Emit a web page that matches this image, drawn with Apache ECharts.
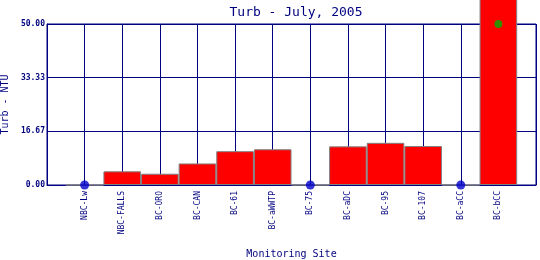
<!DOCTYPE html>
<html><head><meta charset="utf-8">
<script src="https://cdn.jsdelivr.net/npm/echarts@6/dist/echarts.min.js"></script>
<style>html,body{margin:0;padding:0;background:#fff}#c{width:540px;height:260px}</style>
</head><body><div id="c"></div>
<script>
const sites = ['NBC-Lw','NBC-FALLS','BC-ORO','BC-CAN','BC-61','BC-aWWTP','BC-75','BC-aDC','BC-95','BC-107','BC-aCC','BC-bCC'];
const turbidity = [0, 4.25, 3.5, 6.7, 10.5, 11.1, 0, 12.0, 13.1, 12.1, 0, 60];
const zeroMarks = [0, null, null, null, null, null, 0, null, null, null, 0, null];
const offScaleMarks = [null, null, null, null, null, null, null, null, null, null, null, 50];
const yTicks = [0, 16.67, 33.33, 50];

const NAVY = '#000080';
const FONT = 'DejaVu Sans Mono';
const cats = [''].concat(sites, ['']);
const pad = a => [null].concat(a, [null]);

const chart = echarts.init(document.getElementById('c'), null, {renderer: 'canvas'});
chart.setOption({
  animation: false,
  title: {text: 'Turb - July, 2005', left: 291, top: 1, textAlign: 'center',
    textStyle: {fontFamily: FONT, fontSize: 13, fontWeight: 'normal', color: NAVY}},
  grid: {left: 47, right: 4, top: 24, bottom: 75, show: true, borderColor: NAVY, borderWidth: 1,
    containLabel: false, outerBoundsMode: 'none'},
  xAxis: {
    type: 'category', data: cats, boundaryGap: false,
    name: 'Monitoring Site', nameLocation: 'middle', nameGap: 64,
    nameTextStyle: {fontFamily: FONT, fontSize: 10, color: NAVY},
    axisLine: {lineStyle: {color: NAVY}}, axisTick: {show: false},
    axisLabel: {rotate: 90, margin: 6, interval: 0, fontFamily: FONT, fontSize: 8, color: NAVY},
    splitLine: {show: true, interval: 0, lineStyle: {color: NAVY, width: 1}}
  },
  yAxis: {
    type: 'value', min: 0, max: 50, interval: 50 / 3,
    name: 'Turb - NTU', nameLocation: 'middle', nameGap: 33,
    nameTextStyle: {fontFamily: FONT, fontSize: 10, color: NAVY},
    axisLine: {show: true, lineStyle: {color: NAVY}}, axisTick: {show: false},
    axisLabel: {margin: 2, fontFamily: FONT, fontSize: 8, fontWeight: 'bold', color: NAVY,
      formatter: v => v.toFixed(2)},
    splitLine: {show: true, lineStyle: {color: NAVY, width: 1}}
  },
  series: [
    {type: 'bar', data: pad(turbidity), barWidth: '100%', clip: false,
     itemStyle: {color: '#ff0000', borderColor: '#808080', borderWidth: 1}},
    {type: 'scatter', data: pad(zeroMarks), symbol: 'circle', symbolSize: 9, z: 5, clip: false,
     itemStyle: {color: '#0000cc'}},
    {type: 'scatter', data: pad(offScaleMarks), symbol: 'circle', symbolSize: 8, z: 5, clip: false,
     itemStyle: {color: '#00b000'}}
  ]
});
</script></body></html>
